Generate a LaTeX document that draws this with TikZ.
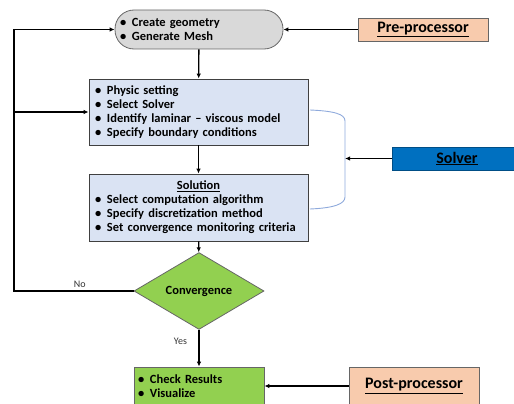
\documentclass[tikz,border=0pt]{standalone}
\usepackage{fontspec}
\setmainfont{Carlito}
\usetikzlibrary{shapes.geometric,arrows.meta}

\definecolor{meshgray}{HTML}{D9D9D9}
\definecolor{stepblue}{HTML}{DAE3F3}
\definecolor{peach}{HTML}{F8CBAD}
\definecolor{convgreen}{HTML}{92D050}
\definecolor{solverblue}{HTML}{0070C0}
\definecolor{bracket}{HTML}{8FAADC}

\newcommand{\bul}{\makebox[12pt][l]{\textbullet}}

\tikzset{
  flow/.style    = {line width=1.3pt, -{Latex[length=5pt,width=4.5pt]}},
  stepbox/.style = {draw=black!75, line width=0.8pt, fill=stepblue, minimum width=219pt,
                    minimum height=66pt, text width=207pt, align=left, inner sep=0pt,
                    font=\bfseries\fontsize{12.5}{14}\selectfont},
  tagbox/.style  = {draw=black!60, line width=0.8pt, minimum width=130pt, minimum height=23pt,
                    inner sep=0pt, font=\bfseries\fontsize{16}{18}\selectfont},
  answer/.style  = {font=\fontsize{10}{11}\selectfont, text=black!80}
}

\begin{document}
\begin{tikzpicture}[x=1pt, y=-1pt]
    \useasboundingbox (0,0) rectangle (514,404);
    \clip (0,0) rectangle (514,404);
    % main column
    \node[draw=black!60, line width=0.8pt, fill=meshgray, rounded corners=19pt, minimum width=168pt,
          minimum height=39pt, text width=158pt, align=left, inner sep=0pt,
          font=\bfseries\fontsize{12.5}{14}\selectfont] (geom) at (199,29.5)
          {\bul Create geometry\\ \bul Generate Mesh};
    \node[stepbox] (phys) at (198.5,112)
          {\bul Physic setting\\ \bul Select Solver\\ \bul Identify laminar -- viscous model\\ \bul Specify boundary conditions};
    \node[stepbox, minimum height=67pt] (sol) at (198.5,207.5)
          {\makebox[207pt]{\underline{Solution}}\\ \bul Select computation algorithm\\ \bul Specify discretization method\\ \bul Set convergence monitoring criteria};
    \node[diamond, draw=black!60, line width=0.8pt, fill=convgreen, minimum width=130pt,
          minimum height=45pt, inner sep=0pt, font=\bfseries\fontsize{12.5}{14}\selectfont] (conv) at (199,291) {Convergence};
    \node[draw=black!60, line width=0.8pt, fill=convgreen, minimum width=130pt, minimum height=38pt,
          text width=122pt, align=left, inner sep=0pt,
          font=\bfseries\fontsize{12.5}{14}\selectfont] (post) at (199,386)
          {\bul Check Results\\ \bul Visualize};
    % side tags
    \node[tagbox, fill=peach] (pre) at (423,29.5) {\underline{Pre-processor}};
    \node[tagbox, fill=solverblue, draw=solverblue!70!black] (solver) at (457,158.5) {\underline{Solver}};
    \node[tagbox, fill=peach, minimum height=38pt] (postp) at (414,386) {\underline{Post-processor}};
    % coordinates for the loop and the bracket
    \coordinate (loop)   at (14,291);
    \coordinate (branch) at (14,112);
    \coordinate (brace)  at (345,158.5);
    \draw[bracket, line width=0.9pt] (310,110) .. controls (334,111) and (345,114) .. (345,121)
          -- (345,197) .. controls (345,204) and (334,208) .. (310,209);
    % arrows
    \draw[flow] (geom) -- (phys);
    \draw[flow] (phys) -- (sol);
    \draw[flow] (sol) -- (conv);
    \draw[flow] (conv) -- node[answer, left=8pt, pos=0.3] {Yes} (post);
    \draw[flow] (conv.west) -- node[answer, above=-1pt, pos=0.45] {No} (loop) |- (geom.west);
    \draw[flow] (branch) -- (phys.west);
    \draw[flow] (pre) -- (geom);
    \draw[flow] (solver) -- (brace);
    \draw[flow] (postp.west) -- (post.east |- postp.west);
  \end{tikzpicture}
\end{document}
